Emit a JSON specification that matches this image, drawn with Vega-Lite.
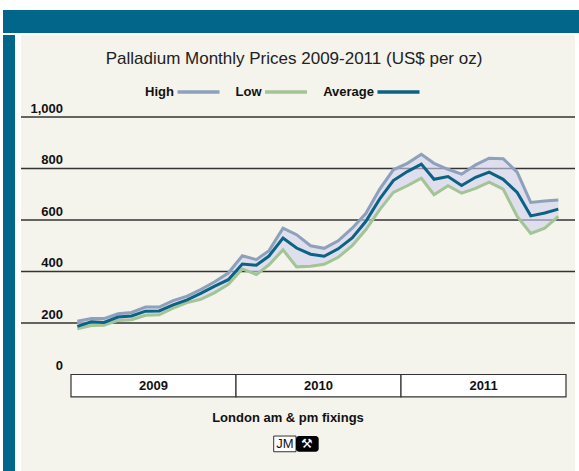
{
  "$schema": "https://vega.github.io/schema/vega-lite/v6.json",
  "background": "white",
  "padding": {"left": 3, "top": 10, "right": 0, "bottom": 0},
  "config": {"font": "Liberation Sans", "view": {"stroke": null}},
  "datasets": {
    "prices": [
      {"month": "2009-01-15", "High": 207, "Average": 187, "Low": 177},
      {"month": "2009-02-15", "High": 217, "Average": 205, "Low": 190},
      {"month": "2009-03-15", "High": 217, "Average": 202, "Low": 191},
      {"month": "2009-04-15", "High": 236, "Average": 223, "Low": 210},
      {"month": "2009-05-15", "High": 241, "Average": 227, "Low": 213},
      {"month": "2009-06-15", "High": 262, "Average": 246, "Low": 230},
      {"month": "2009-07-15", "High": 262, "Average": 247, "Low": 232},
      {"month": "2009-08-15", "High": 287, "Average": 270, "Low": 258},
      {"month": "2009-09-15", "High": 304, "Average": 290, "Low": 279},
      {"month": "2009-10-15", "High": 330, "Average": 315, "Low": 292},
      {"month": "2009-11-15", "High": 360, "Average": 343, "Low": 318},
      {"month": "2009-12-15", "High": 394, "Average": 368, "Low": 350},
      {"month": "2010-01-15", "High": 461, "Average": 429, "Low": 410},
      {"month": "2010-02-15", "High": 446, "Average": 424, "Low": 388},
      {"month": "2010-03-15", "High": 481, "Average": 460, "Low": 426},
      {"month": "2010-04-15", "High": 568, "Average": 530, "Low": 484},
      {"month": "2010-05-15", "High": 543, "Average": 491, "Low": 418},
      {"month": "2010-06-15", "High": 500, "Average": 467, "Low": 420},
      {"month": "2010-07-15", "High": 490, "Average": 459, "Low": 428},
      {"month": "2010-08-15", "High": 519, "Average": 488, "Low": 455},
      {"month": "2010-09-15", "High": 568, "Average": 530, "Low": 500},
      {"month": "2010-10-15", "High": 625, "Average": 594, "Low": 562},
      {"month": "2010-11-15", "High": 720, "Average": 682, "Low": 640},
      {"month": "2010-12-15", "High": 795, "Average": 753, "Low": 707},
      {"month": "2011-01-15", "High": 820, "Average": 788, "Low": 733},
      {"month": "2011-02-15", "High": 855, "Average": 817, "Low": 762},
      {"month": "2011-03-15", "High": 820, "Average": 758, "Low": 698},
      {"month": "2011-04-15", "High": 797, "Average": 769, "Low": 733},
      {"month": "2011-05-15", "High": 778, "Average": 734, "Low": 704},
      {"month": "2011-06-15", "High": 814, "Average": 766, "Low": 723},
      {"month": "2011-07-15", "High": 840, "Average": 786, "Low": 747},
      {"month": "2011-08-15", "High": 838, "Average": 758, "Low": 720},
      {"month": "2011-09-15", "High": 786, "Average": 707, "Low": 614},
      {"month": "2011-10-15", "High": 668, "Average": 616, "Low": 548},
      {"month": "2011-11-15", "High": 674, "Average": 627, "Low": 568},
      {"month": "2011-12-15", "High": 678, "Average": 642, "Low": 614}
    ],
    "years": [
      {"year": "2009", "start": "2009-01-01", "end": "2010-01-01"},
      {"year": "2010", "start": "2010-01-01", "end": "2011-01-01"},
      {"year": "2011", "start": "2011-01-01", "end": "2012-01-01"}
    ],
    "ticks": [{"v": 0}, {"v": 200}, {"v": 400}, {"v": 600}, {"v": 800}, {"v": 1000}],
    "logo": [{"brand": "JM"}]
  },
  "spacing": 2,
  "vconcat": [
    {
      "width": 576, "height": 23,
      "view": {"fill": "#02658a", "stroke": null},
      "data": {"values": []},
      "mark": "point"
    },
    {
      "spacing": 5,
      "hconcat": [
        {
          "width": 12, "height": 436,
          "view": {"fill": "#02658a", "stroke": null},
          "data": {"values": []},
          "mark": "point"
        },
        {
          "width": 554, "height": 436,
          "view": {"fill": "#f4f3ec", "stroke": null},
          "title": {"text": "Palladium Monthly Prices 2009-2011 (US$ per oz)", "fontSize": 17, "fontWeight": "normal", "font": "Liberation Sans", "color": "#222", "offset": -33, "anchor": "middle", "dx": -4},
          "layer": [
            {
              "data": {"name": "ticks"},
              "transform": [{"filter": "datum.v > 0"}],
              "mark": {"type": "rule", "color": "#333", "strokeWidth": 1.3},
              "encoding": {
                "y": {"field": "v", "type": "quantitative", "scale": {"domain": [-374.8, 1318.4], "nice": false, "zero": false}, "axis": null}
              }
            },
            {
              "data": {"name": "prices"},
              "mark": {"type": "area", "fill": "#cfd0ee", "opacity": 0.6},
              "encoding": {
                "x": {"field": "month", "type": "temporal", "scale": {"domain": [1221211636364, 1327096145455]}, "axis": null},
                "y": {"field": "Low", "type": "quantitative", "axis": null},
                "y2": {"field": "High"}
              }
            },
            {
              "data": {"name": "years"},
              "mark": {"type": "rect", "fill": "white", "stroke": "#333", "strokeWidth": 1.2},
              "encoding": {
                "x": {"field": "start", "type": "temporal", "axis": null},
                "x2": {"field": "end"},
                "y": {"datum": 0, "type": "quantitative", "axis": null},
                "y2": {"datum": -87}
              }
            },
            {
              "data": {"name": "years"},
              "mark": {"type": "text", "fontSize": 13, "fontWeight": "bold", "color": "#111", "baseline": "middle", "font": "Liberation Sans"},
              "encoding": {
                "text": {"field": "year"},
                "x": {"field": "start", "timeUnit": "year", "type": "temporal", "bandPosition": 0.5, "axis": null},
                "y": {"datum": -44.7, "type": "quantitative", "axis": null}
              }
            },
            {
              "data": {"name": "ticks"},
              "mark": {"type": "text", "fontSize": 13, "fontWeight": "bold", "color": "#111", "align": "right", "baseline": "alphabetic", "dy": -4, "font": "Liberation Sans"},
              "encoding": {
                "text": {"field": "v", "type": "quantitative", "format": ",d"},
                "x": {"datum": 1229238981817, "type": "temporal", "axis": null},
                "y": {"field": "v", "type": "quantitative", "axis": null}
              }
            },
            {
              "data": {"name": "prices"},
              "transform": [{"fold": ["High", "Low", "Average"], "as": ["series", "value"]}],
              "mark": {"type": "line", "strokeWidth": 3},
              "encoding": {
                "x": {"field": "month", "type": "temporal", "axis": null},
                "y": {"field": "value", "type": "quantitative", "axis": null},
                "color": {"field": "series", "type": "nominal",
                  "scale": {"domain": ["High", "Low", "Average"], "range": ["#8da1bc", "#a3c494", "#0b6283"]},
                  "legend": {"orient": "none", "legendX": 172.5, "legendY": 59, "direction": "horizontal", "title": null, "symbolType": "stroke", "symbolSize": 1764, "symbolStrokeWidth": 3.5, "labelAlign": "right", "labelOffset": -47.5, "labelFont": "Liberation Sans", "labelFontWeight": "bold", "labelFontSize": 13, "labelColor": "#111", "columnPadding": 8.5, "padding": 0}}
              }
            },
            {
              "data": {"name": "logo"},
              "mark": {"type": "text", "text": "London am & pm fixings", "fontSize": 13, "fontWeight": "bold", "color": "#111", "baseline": "middle", "font": "Liberation Sans"},
              "encoding": {
                "x": {"datum": 1272242618175, "type": "temporal", "axis": null},
                "y": {"datum": -170.9, "type": "quantitative", "axis": null}
              }
            },
            {
              "data": {"name": "logo"},
              "mark": {"type": "rect", "fill": "white", "stroke": "#333", "strokeWidth": 1},
              "encoding": {
                "x": {"datum": 1269509498182, "type": "temporal", "axis": null},
                "x2": {"datum": 1273771636364},
                "y": {"datum": -239, "type": "quantitative", "axis": null},
                "y2": {"datum": -300}
              }
            },
            {
              "data": {"name": "logo"},
              "mark": {"type": "rect", "fill": "black", "cornerRadius": 3},
              "encoding": {
                "x": {"datum": 1273771636364, "type": "temporal", "axis": null},
                "x2": {"datum": 1278110225455},
                "y": {"datum": -239, "type": "quantitative", "axis": null},
                "y2": {"datum": -300}
              }
            },
            {
              "data": {"name": "logo"},
              "mark": {"type": "text", "fontSize": 13, "color": "#111", "baseline": "middle", "font": "Liberation Sans"},
              "encoding": {
                "text": {"field": "brand"},
                "x": {"datum": 1271640610909, "type": "temporal", "axis": null},
                "y": {"datum": -270, "type": "quantitative", "axis": null}
              }
            },
            {
              "data": {"name": "logo"},
              "mark": {"type": "text", "text": "⚒", "fontSize": 13, "color": "white", "baseline": "middle"},
              "encoding": {
                "x": {"datum": 1275940930909, "type": "temporal", "axis": null},
                "y": {"datum": -270, "type": "quantitative", "axis": null}
              }
            }
          ]
        }
      ]
    }
  ]
}
